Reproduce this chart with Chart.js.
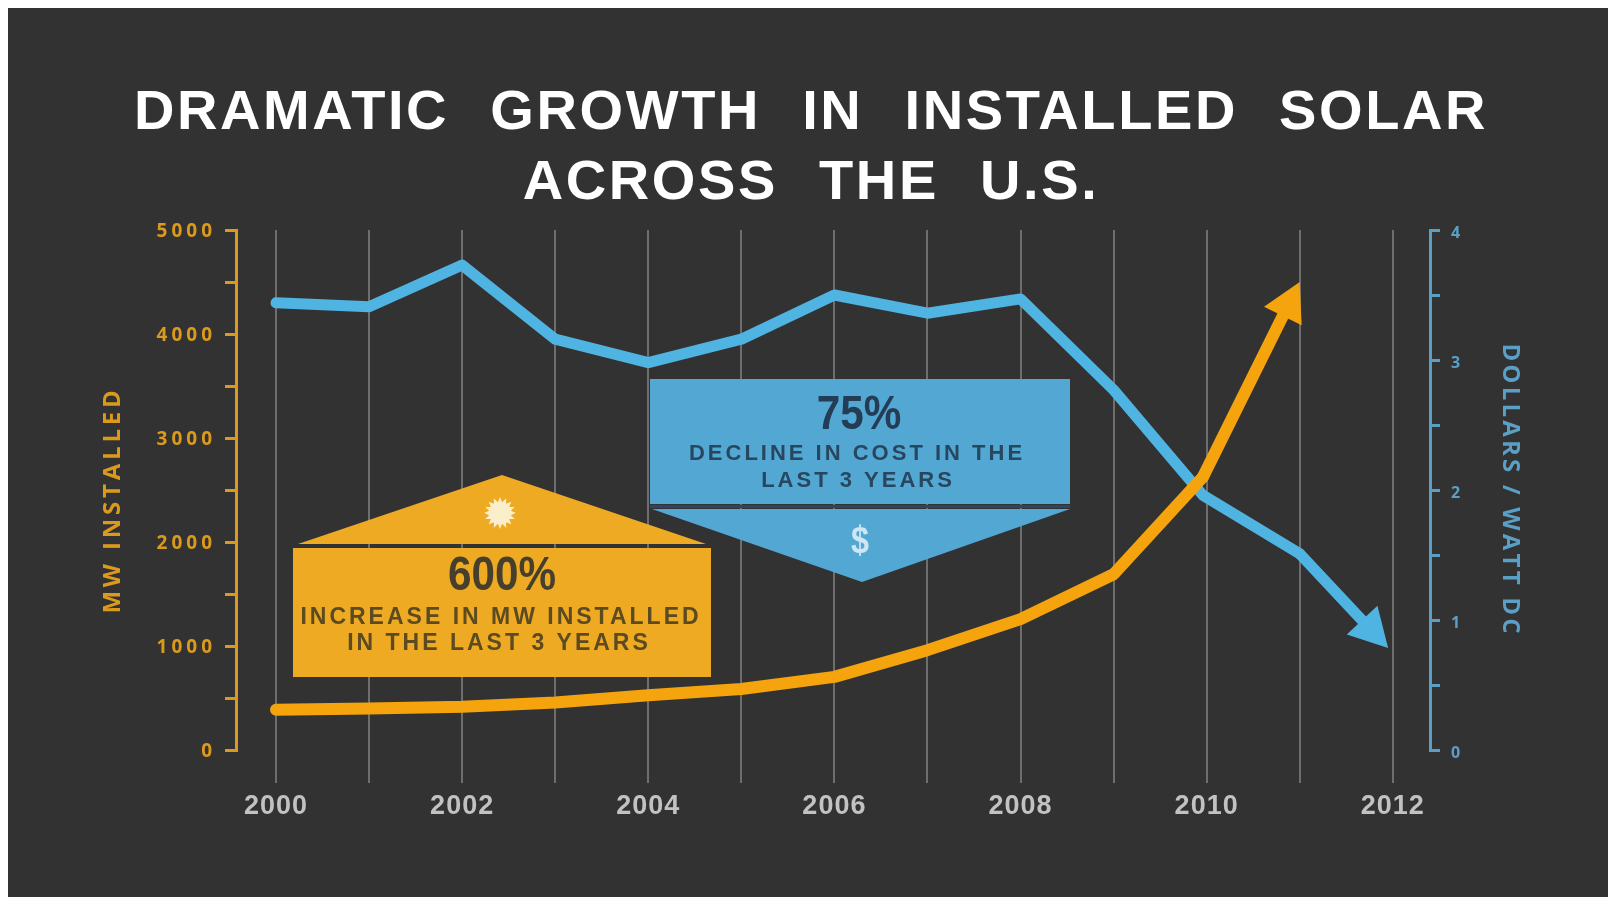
<!DOCTYPE html>
<html>
<head>
<meta charset="utf-8">
<script src="https://cdn.jsdelivr.net/npm/chart.js@4"></script>
<style>
    html, body { margin: 0; background: #fff; overflow: hidden; }
    #solarChart { position: absolute; left: 8px; top: 8px; background: #323232; }
</style>
</head>
<body>
<canvas id="solarChart" width="1600" height="889"></canvas>
<script>
const titleLines = ['DRAMATIC GROWTH IN INSTALLED SOLAR', 'ACROSS THE U.S.'];
const tickYears = [2000, 2001, 2002, 2003, 2004, 2005, 2006, 2007, 2008, 2009, 2010, 2011, 2012];
const mwYears = [2000, 2001, 2002, 2003, 2004, 2005, 2006, 2007, 2008, 2009, 2009.96, 2011];
const mwInstalled = [388, 398, 417, 457, 527, 586, 703, 960, 1258, 1690, 2625, 4500];
const costYears = [2000, 2001, 2002, 2003, 2004, 2005, 2006, 2007, 2008, 2009, 2009.96, 2011, 2011.95];
const dollarsPerWatt = [3.44, 3.41, 3.73, 3.16, 2.98, 3.16, 3.50, 3.36, 3.47, 2.77, 1.96, 1.51, 0.785];

const ORANGE = '#f5a40e';
const BLUE = '#4fb4e2';
const AXIS_ORANGE = '#dc9a1c';
const AXIS_BLUE = '#5a9fc6';
const GRID = '#6e6e6e';

// chart.js has no letter spacing option, so wrap the draw calls
function spaced(obj, method, letter, word, dx, dy) {
    const orig = obj[method];
    obj[method] = function(...args) {
        const c = this.ctx;
        c.save();
        c.letterSpacing = letter;
        c.wordSpacing = word || '0px';
        c.translate(dx || 0, dy || 0);
        orig.apply(this, args);
        c.restore();
    };
}

const spacingPlugin = {
    id: 'spacing',
    beforeDraw(chart) {
        if (chart.$spaced) return;
        chart.$spaced = true;
        spaced(chart.titleBlock, 'draw', '2.6px', '23px', 3, 0);
        spaced(chart.scales.x, 'drawLabels', '1px');
        spaced(chart.scales.y, 'drawLabels', '4px', '0px', 0, 1.5);
        spaced(chart.scales.y, 'drawTitle', '3.8px', '0px', 0, 10);
        spaced(chart.scales.y1, 'drawLabels', '0px', '0px', 2, 3);
        spaced(chart.scales.y1, 'drawTitle', '3.2px');
    }
};

function boxText(c, text, x, y, font, color, spacing, squeeze) {
    c.save();
    c.font = font;
    c.fillStyle = color;
    c.letterSpacing = spacing;
    c.textAlign = 'center';
    c.textBaseline = 'middle';
    c.translate(x, y);
    c.scale(squeeze || 1, 1);
    c.fillText(text, 0, 0);
    c.restore();
}

// the two call-out boxes sit over the grid and under the lines
const calloutPlugin = {
    id: 'callouts',
    beforeDatasetsDraw(chart) {
        const c = chart.ctx;
        c.save();

        c.fillStyle = '#eeaa22';
        c.fillRect(285, 540, 418, 129);
        c.beginPath();
        c.moveTo(290, 536);
        c.lineTo(494, 467);
        c.lineTo(698, 536);
        c.closePath();
        c.fill();

        // sun
        c.fillStyle = '#fbeecb';
        c.beginPath();
        for (let i = 0; i < 32; i++) {
            const r = i % 2 ? 11 : 16;
            const a = i * Math.PI / 16;
            c.lineTo(492 + r * Math.cos(a), 505 + r * Math.sin(a));
        }
        c.closePath();
        c.fill();

        boxText(c, '600%', 494, 569, 'bold 48px "Liberation Sans"', '#463f2c', '0px', 0.88);
        boxText(c, 'INCREASE IN MW INSTALLED', 493, 610, 'bold 23px "Liberation Sans"', '#5c4a20', '3px');
        boxText(c, 'IN THE LAST 3 YEARS', 491, 636, 'bold 23px "Liberation Sans"', '#5c4a20', '3px');

        c.fillStyle = '#52a8d3';
        c.fillRect(642, 371, 420, 125);
        c.beginPath();
        c.moveTo(644, 501);
        c.lineTo(1062, 501);
        c.lineTo(854, 574);
        c.closePath();
        c.fill();
        c.fillStyle = '#2b4468';
        c.fillRect(642, 497, 420, 3);

        boxText(c, '75%', 851, 408, 'bold 48px "Liberation Sans"', '#243c56', '0px', 0.88);
        boxText(c, 'DECLINE IN COST IN THE', 849, 446, 'bold 22px "Liberation Sans"', '#28475f', '3px');
        boxText(c, 'LAST 3 YEARS', 850, 473, 'bold 22px "Liberation Sans"', '#28475f', '3px');
        boxText(c, '$', 852, 535, 'bold 38px "Liberation Sans"', '#cfe7f3', '0px', 0.85);

        c.restore();
    }
};

// last segment of each line ends in an arrow head
const arrowPlugin = {
    id: 'arrows',
    afterDatasetsDraw(chart) {
        const c = chart.ctx;
        chart.data.datasets.forEach((ds, i) => {
            const pts = chart.getDatasetMeta(i).data;
            const tip = pts[pts.length - 1];
            const prev = pts[pts.length - 2];
            const len = Math.hypot(tip.x - prev.x, tip.y - prev.y);
            const ux = (tip.x - prev.x) / len;
            const uy = (tip.y - prev.y) / len;
            const baseX = tip.x - ux * 38;
            const baseY = tip.y - uy * 38;
            c.save();
            c.strokeStyle = ds.borderColor;
            c.fillStyle = ds.borderColor;
            c.lineWidth = ds.borderWidth;
            c.lineCap = 'round';
            c.beginPath();
            c.moveTo(prev.x, prev.y);
            c.lineTo(baseX + ux * 4, baseY + uy * 4);
            c.stroke();
            c.beginPath();
            c.moveTo(tip.x, tip.y);
            c.lineTo(baseX - uy * 21, baseY + ux * 21);
            c.lineTo(baseX + uy * 21, baseY - ux * 21);
            c.closePath();
            c.fill();
            c.restore();
        });
    }
};

function lineData(xs, ys) {
    return xs.map((x, i) => ({ x: x, y: ys[i] }));
}

function hideLast(count) {
    return ctx => ctx.p1DataIndex === count - 1 ? 'transparent' : undefined;
}

const ctx = document.getElementById('solarChart').getContext('2d');
const solarChart = new Chart(ctx, {
    type: 'line',
    data: {
        datasets: [{
            label: 'MW Installed',
            data: lineData(mwYears, mwInstalled),
            yAxisID: 'y',
            borderColor: ORANGE,
            borderWidth: 12,
            borderCapStyle: 'round',
            borderJoinStyle: 'round',
            pointRadius: 0,
            tension: 0,
            clip: false,
            segment: { borderColor: hideLast(mwYears.length) }
        }, {
            label: 'Dollars / Watt DC',
            data: lineData(costYears, dollarsPerWatt),
            yAxisID: 'y1',
            borderColor: BLUE,
            borderWidth: 11,
            borderCapStyle: 'round',
            borderJoinStyle: 'round',
            pointRadius: 0,
            tension: 0,
            clip: false,
            segment: { borderColor: hideLast(costYears.length) }
        }]
    },
    options: {
        responsive: false,
        animation: false,
        devicePixelRatio: 1,
        layout: { padding: 0 },
        plugins: {
            legend: { display: false },
            tooltip: { enabled: false },
            title: {
                display: true,
                text: titleLines,
                color: '#ffffff',
                font: { family: '"Liberation Sans"', size: 56, weight: 'bold', lineHeight: 1.25 },
                padding: { top: 71, bottom: 11 }
            }
        },
        scales: {
            x: {
                type: 'linear',
                bounds: 'data',
                min: 1999.57,
                max: 2012.40,
                afterFit: scale => { scale.height = 147; },
                afterBuildTicks: scale => { scale.ticks = tickYears.map(v => ({ value: v })); },
                border: { display: false },
                grid: { color: GRID, lineWidth: 2, tickLength: 33 },
                ticks: {
                    autoSkip: false,
                    maxRotation: 0,
                    minRotation: 0,
                    padding: 7,
                    color: '#c2c2c2',
                    font: { family: '"Liberation Sans"', size: 27, weight: 'bold' },
                    callback: v => v % 2 === 0 ? String(v) : ''
                }
            },
            y: {
                position: 'left',
                min: 0,
                max: 5000,
                afterFit: scale => { scale.width = 228; },
                border: { color: AXIS_ORANGE, width: 3 },
                grid: { drawOnChartArea: false, color: AXIS_ORANGE, lineWidth: 3, tickLength: 11 },
                ticks: {
                    stepSize: 500,
                    autoSkip: false,
                    padding: 9,
                    color: AXIS_ORANGE,
                    font: { family: '"Open Sans"', size: 19, weight: 'bold' },
                    callback: v => v % 1000 === 0 ? String(v) : ''
                },
                title: {
                    display: true,
                    text: 'MW INSTALLED',
                    color: AXIS_ORANGE,
                    font: { family: '"Open Sans"', size: 24, weight: 'bold', lineHeight: 1.2 },
                    padding: { top: 91, bottom: 0 }
                }
            },
            y1: {
                position: 'right',
                min: 0,
                max: 4,
                afterFit: scale => { scale.width = 178; },
                border: { color: AXIS_BLUE, width: 3 },
                grid: { drawOnChartArea: false, color: AXIS_BLUE, lineWidth: 3, tickLength: 10 },
                ticks: {
                    stepSize: 0.5,
                    autoSkip: false,
                    padding: 9,
                    color: AXIS_BLUE,
                    font: { family: '"Open Sans"', size: 16, weight: 'bold' },
                    callback: v => v % 1 === 0 ? String(v) : ''
                },
                title: {
                    display: true,
                    text: 'DOLLARS / WATT DC',
                    color: AXIS_BLUE,
                    font: { family: '"Open Sans"', size: 24, weight: 'bold', lineHeight: 1.2 },
                    padding: { top: 84, bottom: 0 }
                }
            }
        }
    },
    plugins: [spacingPlugin, calloutPlugin, arrowPlugin]
});
</script>
</body>
</html>
